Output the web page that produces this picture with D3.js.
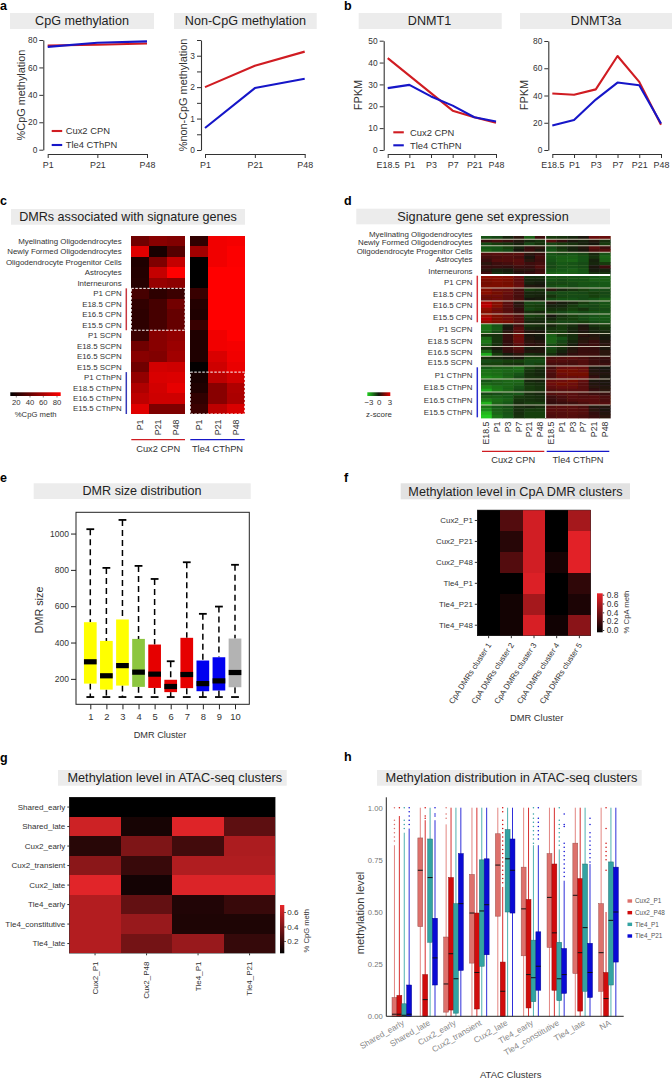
<!DOCTYPE html>
<html>
<head>
<meta charset="utf-8">
<script src="https://cdn.jsdelivr.net/npm/d3@7"></script>
<style>
body { margin: 0; background: #fff; }
svg { display: block; font-family: "Liberation Sans", Arial, sans-serif; }
text { fill: #333; }
</style>
</head>
<body>
<div id="chart"></div>
<script>
// panel a
const ageA = ["P1", "P21", "P48"];
const cpgCux2 = [76, 76.5, 77.5];
const cpgTle4 = [75, 78, 79];
const nonCpgCux2 = [2, 2.68, 3.13];
const nonCpgTle4 = [0.7, 1.97, 2.27];

// panel b
const ageB = ["E18.5", "P1", "P3", "P7", "P21", "P48"];
const dnmt1Cux2 = [42, 34, 26, 18, 15, 12.5];
const dnmt1Tle4 = [28.3, 29.8, 24.5, 20.3, 15, 13];
const dnmt3aCux2 = [41.5, 40.5, 44.5, 69, 50, 18.5];
const dnmt3aTle4 = [18, 22, 37, 49.5, 47.5, 19.5];

// panel c
const signatureLabels = ["Myelinating Oligodendrocytes", "Newly Formed Oligodendrocytes", "Oligodendrocyte Progenitor Cells",
    "Astrocytes", "Interneurons", "P1 CPN", "E18.5 CPN", "E16.5 CPN", "E15.5 CPN", "P1 SCPN", "E18.5 SCPN", "E16.5 SCPN",
    "E15.5 SCPN", "P1 CThPN", "E18.5 CThPN", "E16.5 CThPN", "E15.5 CThPN"];
const dmrCux2 = [[44, 51, 49], [76, 19, 36], [21, 48, 68], [22, 68, 85], [23, 55, 52], [32, 25, 29], [26, 32, 45], [25, 32, 41],
    [25, 32, 41], [29, 51, 54], [44, 51, 56], [51, 49, 58], [44, 72, 71], [54, 74, 75], [62, 72, 78], [66, 71, 71], [76, 48, 48]];
const dmrTle4 = [[26, 81, 82], [58, 81, 84], [12, 81, 84], [12, 85, 85], [12, 85, 85], [28, 85, 85], [22, 85, 85], [21, 85, 85],
    [28, 85, 85], [21, 81, 85], [21, 81, 82], [21, 74, 81], [13, 71, 79], [19, 66, 72], [21, 51, 62], [26, 51, 61], [29, 66, 74]];

// panel d, rows of z-scores, 6 Cux2 samples then 6 Tle4 samples
const exprGroupSizes = [1, 2, 2, 7, 4, 4, 4, 3, 3, 4, 3, 3, 4, 4, 4, 4];
const exprRows = [
    [-1, -.8, -.3, .3, -1.2, .6, -.6, -.5, -.3, .1, 1.2, 1.2],
    [.5, .7, .5, .2, -.3, -.5, .9, .4, .1, -.2, .2, -.4],
    [-.9, -.6, -.5, -.2, -.8, -.5, -.8, -.6, -.5, -.2, 0, -.6],
    [-1.1, -1, -.7, -.2, .4, .3, -.9, -.5, -.2, .2, 1, .6],
    [-1.2, -1, -.8, 0, .5, .1, -1, -.6, -.2, .1, .8, .9],
    [.9, 1, .9, 1, .3, .5, -1, -.9, -1, -.8, -.3, -1],
    [.7, .8, .9, .8, .1, .7, -1.1, -1.2, -1.2, -1, -.5, -1.3],
    [.5, .9, .9, 1, .3, .6, -1, -1.2, -1.3, -1, -.2, -1.2],
    [.3, .6, .7, .9, .6, .7, -.9, -1.1, -1, -.9, -.3, -.6],
    [.5, .5, .4, .6, .5, .9, -.8, -1, -1, -.9, .1, .6],
    [.3, -.2, -.1, .3, .3, .6, -1, -1.1, -1.2, -1, -.1, -.2],
    [.6, -.4, -.3, .2, .4, .7, -1.2, -1.3, -1.2, -1.1, -.4, -.5],
    [1.8, 1.7, 1.6, 1.2, -.4, -.4, -1, -1, -1, -1, -1.1, -1.2],
    [1.5, 1.6, 1.5, 1.1, -.3, -.3, -1, -.9, -1, -1, -1.2, -1.2],
    [1.4, 1.5, 1.4, 1.1, -.2, -.1, -.8, -.8, -.9, -1, -1, -1.1],
    [1.5, 1.5, 1.5, 1.2, .2, .1, -.9, -1, -.9, -1, -1.1, -1.1],
    [1.6, 1.3, 1.2, .7, -.6, -.5, .3, -.3, -.5, -.7, -.9, -.9],
    [1.7, 1.4, 1.2, .8, -.3, -.3, -.8, -.9, -.9, -.8, -.7, -.8],
    [1.3, 1.3, 1.1, .7, -.3, -.2, -.5, -.8, -.9, -.9, -.7, -.9],
    [1.2, 1.3, 1.1, .8, 0, -.1, -.9, -1, -1, -.9, -1, -1.2],
    [2.2, 1.6, 1, .2, -.8, -.8, .2, -.1, -.3, -.6, -.9, -1],
    [2.4, 1.6, 1, .3, -.7, -.6, -.2, -.3, -.6, -.9, -.8, -1],
    [1.8, 1.3, .9, .4, -.8, -.7, -.4, -.5, -.7, -.5, -.8, -.9],
    [1.6, 1.3, 1, .5, -.4, -.3, -.7, -.8, -1, -.9, -1, -1],
    [2, 1.5, 1.3, .9, -.7, -.6, 0, -.5, -.7, -.9, -1, -1.1],
    [2.2, 1.5, 1.3, 1, -.5, -.4, -.3, -.6, -.7, -.9, -1.1, -1.1],
    [1.8, 1.5, 1.4, 1, -.3, -.3, -.6, -.8, -.8, -.7, -.9, -1],
    [-1.5, -1, -.1, .7, -.5, -.4, -.3, -.6, -.4, .1, -.5, -.6],
    [-1.5, -1.1, .1, 1, -.3, -.2, -.5, -.6, -.3, .2, -.3, -.5],
    [-1.3, -.8, .3, 1, .2, .1, -.6, -.6, -.2, .1, -.2, -.3],
    [-.5, -.4, .5, 1.3, .1, -.1, -1.2, -.6, -.4, .3, .2, -.1],
    [-1.3, -.5, .5, 1.3, .2, 0, -1.3, -1, -.4, .2, .3, 0],
    [-1.6, -.5, .4, 1.2, .3, .2, -1.3, -.8, -.3, .3, .5, .2],
    [-1.2, -.4, .4, 1, .4, .3, -.9, -.6, -.1, .4, .6, .3],
    [-.4, .1, .5, .9, -.1, .1, -.8, -.4, .2, .5, .4, .1],
    [-1.3, -.3, .4, .7, .2, .2, -.7, -.2, .3, .5, .5, .3],
    [-2.4, -.6, -.1, .3, -.4, -.3, -.4, .1, .4, .6, .6, .3],
    [-.4, -.3, -.1, .1, -.7, -.7, .8, .9, 1, .8, .5, .5],
    [-.9, -.8, -.7, -.7, -.9, -.9, .9, .9, .8, .9, .6, .4],
    [-.7, -.7, -.5, -.4, -.8, -.7, .7, .7, .7, .9, .6, .6],
    [-1.1, -1.2, -1.2, -1.4, -.7, -.5, .7, 1.2, 1.3, 1.2, .1, 0],
    [-1.5, -1.4, -1.3, -1.3, -.5, -.3, .9, 1.4, 1.4, 1.3, .2, .1],
    [-1.5, -1.4, -1.2, -1, -.4, -.3, .8, 1.3, 1.4, 1.4, .3, .2],
    [-1.8, -1.6, -1.3, -.9, -.5, -.4, .8, 1.2, 1.2, 1.3, .4, .1],
    [-1, -1.2, -1.3, -1.3, -.3, -.2, 1.2, 1.3, 1.4, 1.1, .1, .1],
    [-1.3, -1.2, -1.3, -1.2, -.5, -.4, 1.3, 1.4, 1.3, 1, .2, .1],
    [-1.8, -1.5, -1.3, -1, -.6, -.5, 1.1, 1.2, 1.2, 1, .3, .2],
    [-2.3, -1.6, -1.3, -.9, -.6, -.5, .9, 1, 1, 1, .4, .3],
    [-.8, -.9, -1, -1, -.4, -.3, .9, 1, 1, .8, .6, .5],
    [-1.2, -1.2, -1.1, -.6, -.5, -.4, .6, .8, 1, .9, 1, .8],
    [-1.7, -1.4, -1.2, -.5, -.5, -.4, .5, .7, .9, 1, 1, .8],
    [-2.5, -1.3, -1.1, -.4, -.6, -.6, .4, .5, .6, .8, 1, .9],
    [-1.5, -1.1, -.9, -.4, -.3, -.4, .9, 1, 1, .8, .2, .2],
    [-1.9, -1.2, -1, -.4, -.6, -.6, 1, 1, 1, .9, .3, .1],
    [-2.6, -1.3, -1, -.4, -.7, -.7, .9, .9, 1, .9, .4, .2],
    [-2.9, -1.5, -1.1, -.5, -.7, -.7, .8, .9, .9, .8, .5, .3]
];
const exprLabels = signatureLabels;

// panel e
const dmrClusters = [1, 2, 3, 4, 5, 6, 7, 8, 9, 10];
const sizeQ1 = [174, 141, 163, 156, 150, 127, 149, 132, 136, 154];
const sizeMedian = [294, 217, 273, 237, 226, 158, 224, 174, 189, 235];
const sizeQ3 = [512, 409, 527, 420, 389, 195, 426, 301, 319, 422];
const sizeHigh = [1024, 811, 1075, 822, 750, 297, 842, 558, 598, 828];
const sizeLow = [100, 100, 100, 100, 100, 100, 100, 100, 100, 100];
const sizeColors = ["#ffff00", "#ffff00", "#ffff00", "#8cc63f", "#e60000", "#e60000", "#e60000", "#0000f0", "#0000f0", "#b3b3b3"];

// panel f
const cpaSamples = ["Cux2_P1", "Cux2_P21", "Cux2_P48", "Tle4_P1", "Tle4_P21", "Tle4_P48"];
const cpaClusters = ["CpA DMRs cluster 1", "CpA DMRs cluster 2", "CpA DMRs cluster 3", "CpA DMRs cluster 4", "CpA DMRs cluster 5"];
const cpaValues = [[0, .3, .76, 0, .6], [0, .14, .76, 0, .82], [0, .3, .76, .08, .82], [0, 0, .8, 0, .17], [0, .07, .6, 0, .1], [0, .07, .78, .06, .5]];

// panel g
const atacClusters = ["Shared_early", "Shared_late", "Cux2_early", "Cux2_transient", "Cux2_late", "Tle4_early", "Tle4_constitutive", "Tle4_late"];
const atacSamples = ["Cux2_P1", "Cux2_P48", "Tle4_P1", "Tle4_P21"];
const atacValues = [[0, 0, 0, 0], [.62, .07, .67, .28], [.12, .38, .2, .52], [.42, .17, .53, .53], [.68, .06, .66, .66], [.54, .3, .1, .17], [.54, .46, .09, .09], [.54, .35, .46, .16]];

// panel h, each box is [q1, median, q3, whisker top]
const distClusters = ["Shared_early", "Shared_late", "Cux2_early", "Cux2_transient", "Cux2_late", "Tle4_early", "Tle4_constitutive", "Tle4_late", "NA"];
const distSamples = ["Cux2_P1", "Cux2_P48", "Tle4_P1", "Tle4_P21"];
const distColors = ["#dd716c", "#d00c0c", "#33a3a2", "#0a0ad4"];
const boxCux2P1 = [[0, .01, .09, .82], [.43, .7, .855, 1], [.02, .155, .38, .92], [.255, .495, .68, 1], [.48, .725, .875, 1], [.29, .515, .715, 1], [.33, .57, .78, 1], [.205, .58, .83, 1], [.12, .305, .54, 1]];
const boxCux2P48 = [[0, .01, .1, .96], [0, .08, .2, .94], [.03, .3, .665, 1], [.035, .21, .495, 1], [0, .12, .26, .62], [.04, .2, .56, 1], [.125, .4, .73, 1], [.025, .305, .66, 1], [0, .085, .21, .5]];
const boxTle4P1 = [[0, .005, .06, .88], [.355, .665, .85, 1], [.015, .18, .54, 1], [.24, .505, .75, 1], [.5, .755, .895, 1], [.07, .185, .365, .82], [.075, .18, .355, .8], [.12, .425, .73, 1], [.15, .46, .74, 1]];
const boxTle4P21 = [[0, .01, .15, .9], [.15, .28, .47, .94], [.22, .54, .78, 1], [.295, .535, .755, 1], [.495, .7, .85, 1], [.125, .24, .405, .82], [.11, .2, .325, .65], [.09, .21, .35, .73], [.26, .5, .715, 1]];
const outCux2P1 = [[.84, .86, .88, .9, .92, .94, 1], [], [.95, .97, 1], [], [], [], [], [], []];
const outCux2P48 = [[1], [.95, .96, 1], [], [], [.64, .66, .68, .7, .72, .74, .76, .78, .8, .82, .84, .86, .88, .9, .92, .94, .98, 1], [], [], [], [.7, .75, .77, .79, .81, .83, .9, 1]];
const outTle4P1 = [[.9, .92, .94, 1], [], [], [], [], [.83, .85, .87, .89, .91, .93, .95, .97, 1], [.82, .84, .86, .88, .9, .92, .94, 1], [], []];
const outTle4P21 = [[.92, .94, .96, .98, 1], [.96, .97, 1], [], [], [], [.85, .87, .89, .91, .93, .95, 1], [.67, .69, .71, .73, .75, .77, .79, .81, .83, .91, .92, .97], [.74, .76, .78, .8, .82, .84, .86, .88, .92, .95], []];

const RED = "#d01c22", BLUE = "#1616c8";

let svg = d3.select("#chart").append("svg").attr("width", 672).attr("height", 1081);

// the gene expression heat map is a soft raster in the original
svg.append("defs").append("filter").attr("id", "soft")
    .attr("x", "-2%").attr("y", "-2%").attr("width", "104%").attr("height", "104%")
    .append("feGaussianBlur").attr("stdDeviation", "0.6,0.5");

function addText(x, y, str, size, opts) {
    opts = opts || {};
    let t = svg.append("text").attr("x", x).attr("y", y).text(str)
        .style("font-size", size + "px")
        .attr("text-anchor", opts.anchor || "start");
    if (opts.rotate !== undefined) t.attr("transform", `rotate(${opts.rotate},${x},${y})`);
    if (opts.weight) t.style("font-weight", opts.weight);
    if (opts.fill) t.style("fill", opts.fill);
    return t;
}

function panelTitle(x0, x1, y0, y1, str, size, cx, fill) {
    svg.append("rect").attr("x", x0).attr("y", y0).attr("width", x1 - x0).attr("height", y1 - y0)
        .attr("fill", fill || "#ececec");
    addText(cx === undefined ? (x0 + x1) / 2 : cx, y1 - 3.6, str, size, {anchor: "middle", fill: "#222"});
}

function styleAxis(g, col, size) {
    g.selectAll(".domain").attr("stroke", col).attr("stroke-width", 1.1);
    g.selectAll(".tick line").attr("stroke", col).attr("stroke-width", 1);
    g.selectAll(".tick text").style("font-size", size + "px").style("fill", "#333").style("font-family", "inherit");
}

// line panels a and b
function linePanel(o) {
    let x = d3.scalePoint().domain(o.ages).range(o.xRange);
    let y = d3.scaleLinear().domain(o.yDomain).range(o.yRange);
    let xg = svg.append("g").attr("transform", `translate(0,154)`)
        .call(d3.axisBottom(x).tickSize(4).tickSizeOuter(0).tickPadding(4));
    styleAxis(xg, "#333", 8.9);
    let yg = svg.append("g").attr("transform", `translate(${o.yAxisX},0)`)
        .call(d3.axisLeft(y).tickValues(o.ticks).tickSize(4).tickSizeOuter(0).tickPadding(2).tickFormat(o.tickFormat || d3.format("d")));
    styleAxis(yg, "#333", 8.4);

    let line = d3.line().x((d, i) => x(o.ages[i])).y(d => y(d));
    [[o.cux2, RED], [o.tle4, BLUE]].forEach(s => {
        svg.append("path").attr("d", line(s[0])).attr("fill", "none")
            .attr("stroke", s[1]).attr("stroke-width", 2.1).attr("stroke-linejoin", "round");
    });
    addText(o.titleX, 95, o.yTitle, 10.9, {anchor: "middle", rotate: -90});
    if (o.legend) {
        [["Cux2 CPN", RED, o.legend[2]], ["Tle4 CThPN", BLUE, o.legend[3]]].forEach(l => {
            svg.append("line").attr("x1", o.legend[0]).attr("x2", o.legend[0] + 10.5).attr("y1", l[2]).attr("y2", l[2])
                .attr("stroke", l[1]).attr("stroke-width", 2.1);
            addText(o.legend[1], l[2] + 3.2, l[0], 9.4);
        });
    }
}

panelTitle(10, 154, 13, 29, "CpG methylation", 12.6);
panelTitle(174, 316.7, 13, 29, "Non-CpG methylation", 12.6);
panelTitle(358.7, 501.7, 13, 29, "DNMT1", 12.6, 429.5);
panelTitle(520, 672, 13, 29, "DNMT3a", 12.6, 596);

linePanel({ages: ageA, cux2: cpgCux2, tle4: cpgTle4, xRange: [47.7, 147], yDomain: [0, 80], yRange: [149.7, 40],
    ticks: [0, 20, 40, 60, 80], yAxisX: 43.3, titleX: 25, yTitle: "%CpG methylation", legend: [51.7, 65.7, 131, 145]});
linePanel({ages: ageA, cux2: nonCpgCux2, tle4: nonCpgTle4, xRange: [205, 304.7], yDomain: [0, 3.5], yRange: [150, 40],
    ticks: [0, .5, 1, 1.5, 2, 2.5, 3, 3.5], tickFormat: d => Number.isInteger(d) ? d : "", yAxisX: 201, titleX: 186.5, yTitle: "%non-CpG methylation"});
linePanel({ages: ageB, cux2: dnmt1Cux2, tle4: dnmt1Tle4, xRange: [387.7, 496], yDomain: [0, 50], yRange: [150, 40.7],
    ticks: [0, 10, 20, 30, 40, 50], yAxisX: 383.7, titleX: 362, yTitle: "FPKM", legend: [393.3, 410, 132.3, 145.3]});
linePanel({ages: ageB, cux2: dnmt3aCux2, tle4: dnmt3aTle4, xRange: [552.3, 661], yDomain: [0, 80], yRange: [150, 41],
    ticks: [0, 20, 40, 60, 80], yAxisX: 548.3, titleX: 528, yTitle: "FPKM"});

[["a", 0, 10], ["b", 344, 10], ["c", 0, 205], ["d", 344, 205], ["e", 0, 481.5], ["f", 344, 481.5], ["g", 0, 762], ["h", 344, 761]]
    .forEach(p => addText(p[1], p[2], p[0], 12.5, {weight: "bold", fill: "#000"}));

// panel c
panelTitle(11, 245, 209, 224.7, "DMRs associated with signature genes", 12.6);
let cRed = d3.scaleLinear().domain([12, 85]).range(["#000000", "#ff0000"]);
let cRows = d3.scaleBand().domain(signatureLabels).range([236, 414]);
function cBlock(values, x0, x1, title, col) {
    let cols = d3.scaleBand().domain(ageA).range([x0, x1]);
    signatureLabels.forEach((lab, r) => {
        svg.append("g").selectAll("rect").data(values[r]).join("rect")
            .attr("x", (d, i) => cols(ageA[i])).attr("y", cRows(lab))
            .attr("width", cols.bandwidth()).attr("height", cRows.bandwidth())
            .attr("fill", d => cRed(d)).attr("shape-rendering", "crispEdges");
    });
    ageA.forEach(a => addText(cols(a) + cols.bandwidth() / 2 + 3, 419.5, a, 8.8, {anchor: "end", rotate: -90}));
    svg.append("line").attr("x1", x0).attr("x2", x1).attr("y1", 439.7).attr("y2", 439.7).attr("stroke", col).attr("stroke-width", 1.2);
    addText((x0 + x1) / 2, 451.7, title, 9.3, {anchor: "middle"});
}
cBlock(dmrCux2, 131.3, 185, "Cux2 CPN", RED);
cBlock(dmrTle4, 190.3, 244.7, "Tle4 CThPN", BLUE);
signatureLabels.forEach(lab => addText(121.7, cRows(lab) + cRows.bandwidth() / 2 + 2.7, lab, 7.9, {anchor: "end"}));
svg.append("line").attr("x1", 126.3).attr("x2", 126.3).attr("y1", cRows("P1 CPN")).attr("y2", cRows("E15.5 CPN") + cRows.bandwidth()).attr("stroke", "#c8373f").attr("stroke-width", 1.5);
svg.append("line").attr("x1", 126.3).attr("x2", 126.3).attr("y1", cRows("P1 CThPN")).attr("y2", 414).attr("stroke", "#3338b8").attr("stroke-width", 1.5);
[[131.3, 53.7, "P1 CPN", "P1 SCPN"], [190.3, 54.4, "P1 CThPN", null]].forEach(b => {
    let y0 = cRows(b[2]), y1 = b[3] ? cRows(b[3]) : 414;
    svg.append("rect").attr("x", b[0]).attr("y", y0).attr("width", b[1]).attr("height", y1 - y0)
        .attr("fill", "none").attr("stroke", "#fff").attr("stroke-width", 1).attr("stroke-dasharray", "2.5,1.5");
});

function gradientBar(id, scale, stops, x, y, w, h, vertical) {
    let grad = svg.append("defs").append("linearGradient").attr("id", id)
        .attr("x1", "0").attr("y1", vertical ? "1" : "0").attr("x2", vertical ? "0" : "1").attr("y2", "0");
    stops.forEach((s, i) => grad.append("stop").attr("offset", i / (stops.length - 1)).attr("stop-color", scale(s)));
    svg.append("rect").attr("x", x).attr("y", y).attr("width", w).attr("height", h).attr("fill", `url(#${id})`);
}
gradientBar("cbarC", cRed, [12, 85], 10.3, 392.3, 50.4, 3.7);
[[20, 16.3], [40, 30], [60, 43.3], [80, 57]].forEach(t => {
    addText(t[1], 405, t[0], 7.7, {anchor: "middle"});
    svg.append("line").attr("x1", t[1]).attr("x2", t[1]).attr("y1", 396).attr("y2", 397.5).attr("stroke", "#333").attr("stroke-width", .6);
});
addText(35.7, 417.3, "%CpG meth", 7.7, {anchor: "middle"});

// panel d
panelTitle(356.3, 610, 208.7, 224.3, "Signature gene set expression", 12.7, 483);
let exprColor = d3.scaleLinear().domain([-3, 0, 3]).range(["#22d022", "#14140c", "#e40000"]);
let exprAges = ageB.map(a => "c" + a).concat(ageB.map(a => "t" + a));
let dCols = d3.scaleBand().domain(exprAges).range([481, 610.3]);
let dRows = d3.scaleBand().domain(d3.range(exprRows.length)).range([236, 418]);
svg.append("g").attr("filter", "url(#soft)").selectAll("g").data(exprRows).join("g")
    .attr("transform", (d, i) => `translate(0,${dRows(i)})`)
    .selectAll("rect").data(d => d).join("rect")
    .attr("x", (d, i) => dCols(exprAges[i])).attr("width", dCols.bandwidth() + .4).attr("height", dRows.bandwidth() + .4)
    .attr("fill", d => exprColor(d));
d3.cumsum(exprGroupSizes).slice(0, -1).forEach((n, i) => {
    svg.append("line").attr("x1", 481).attr("x2", 610.3).attr("y1", dRows(n)).attr("y2", dRows(n))
        .attr("stroke", i === 3 ? "#ffffff" : "#d9d2c0").attr("stroke-width", i === 3 ? 2 : .9);
});
svg.append("line").attr("x1", dCols("tE18.5")).attr("x2", dCols("tE18.5")).attr("y1", 236).attr("y2", 418).attr("stroke", "#fff").attr("stroke-width", 1);
exprAges.forEach(a => addText(dCols(a) + dCols.bandwidth() / 2 + 3, 421.5, a.slice(1), 8.8, {anchor: "end", rotate: -90}));
[[482, 544.3, RED, "Cux2 CPN"], [546.7, 609.3, BLUE, "Tle4 CThPN"]].forEach(u => {
    svg.append("line").attr("x1", u[0]).attr("x2", u[1]).attr("y1", 451.3).attr("y2", 451.3).attr("stroke", u[2]).attr("stroke-width", 1.2);
    addText((u[0] + u[1]) / 2, 463.3, u[3], 9.3, {anchor: "middle"});
});
let dLabelY = d3.scaleOrdinal().domain(exprLabels).range([234, 242.7, 251, 259, 271, 282, 294, 305.7, 317.3, 329.3, 341, 352.3, 362, 375, 387.3, 400.3, 412.3]);
exprLabels.forEach(lab => addText(472.5, dLabelY(lab) + 2.7, lab, 7.9, {anchor: "end"}));
svg.append("line").attr("x1", 477.3).attr("x2", 477.3).attr("y1", 275.7).attr("y2", 322.3).attr("stroke", "#d8333b").attr("stroke-width", 1.5);
svg.append("line").attr("x1", 477.3).attr("x2", 477.3).attr("y1", 367.3).attr("y2", 417.3).attr("stroke", "#2a2ed0").attr("stroke-width", 1.5);
gradientBar("cbarD", exprColor, [-3, 0, 3], 367.3, 392.3, 23, 3.7);
[["\u22123", 369], ["0", 379.3], ["3", 390]].forEach(t => addText(t[1], 405.3, t[0], 7.9, {anchor: "middle"}));
addText(379, 417.3, "z-score", 7.9, {anchor: "middle"});

// panel e
panelTitle(33.7, 250.7, 483.3, 499, "DMR size distribution", 12.6, 142);
let eX = d3.scalePoint().domain(dmrClusters).range([90.3, 235]);
let eY = d3.scaleLinear().domain([60, 1117]).range([704.3, 512.3]);
let boxW = 12.7;
dmrClusters.forEach((c, i) => {
    let g = svg.append("g"), cx = eX(c);
    g.append("line").attr("x1", cx).attr("x2", cx).attr("y1", eY(sizeHigh[i])).attr("y2", eY(sizeQ3[i]))
        .attr("stroke", "#000").attr("stroke-width", 1.5).attr("stroke-dasharray", "6,4");
    g.append("line").attr("x1", cx).attr("x2", cx).attr("y1", eY(sizeQ1[i])).attr("y2", eY(sizeLow[i]))
        .attr("stroke", "#000").attr("stroke-width", 1.5).attr("stroke-dasharray", "6,4");
    [sizeHigh[i], sizeLow[i]].forEach(v => g.append("line").attr("x1", cx - 3.9).attr("x2", cx + 3.9).attr("y1", eY(v)).attr("y2", eY(v))
        .attr("stroke", "#000").attr("stroke-width", 1.8));
    g.append("rect").attr("x", cx - boxW / 2).attr("width", boxW).attr("y", eY(sizeQ3[i])).attr("height", eY(sizeQ1[i]) - eY(sizeQ3[i]))
        .attr("fill", sizeColors[i]);
    g.append("rect").attr("x", cx - boxW / 2).attr("width", boxW).attr("y", eY(sizeMedian[i]) - 2.6).attr("height", 5.2).attr("fill", "#000");
});
svg.append("rect").attr("x", 76).attr("y", 512.3).attr("width", 173.3).attr("height", 192).attr("fill", "none").attr("stroke", "#222").attr("stroke-width", 1);
let eYg = svg.append("g").attr("transform", "translate(76,0)")
    .call(d3.axisLeft(eY).tickValues([200, 400, 600, 800, 1000]).tickFormat(d3.format("d")).tickSize(5).tickSizeOuter(0).tickPadding(2));
eYg.select(".domain").remove();
styleAxis(eYg, "#222", 8.5);
let eXg = svg.append("g").attr("transform", "translate(0,704.3)")
    .call(d3.axisBottom(eX).tickSize(5).tickSizeOuter(0).tickPadding(4));
eXg.select(".domain").remove();
styleAxis(eXg, "#222", 9.4);
addText(43, 610, "DMR size", 10.8, {anchor: "middle", rotate: -90});
addText(160, 737.7, "DMR Cluster", 9.2, {anchor: "middle"});

// panels f and g share the same kind of heat map
function redHeat(o) {
    let x = d3.scaleBand().domain(o.cols).range(o.xRange);
    let y = d3.scaleBand().domain(o.rows).range(o.yRange);
    o.rows.forEach((r, ri) => {
        svg.append("g").selectAll("rect").data(o.values[ri]).join("rect")
            .attr("x", (d, i) => x(o.cols[i])).attr("y", y(r))
            .attr("width", x.bandwidth()).attr("height", y.bandwidth())
            .attr("fill", d => o.color(d)).attr("shape-rendering", "crispEdges");
    });
    let yg = svg.append("g").attr("transform", `translate(${o.xRange[0]},0)`)
        .call(d3.axisLeft(y).tickSize(o.tick).tickSizeOuter(0).tickPadding(2));
    yg.select(".domain").remove();
    styleAxis(yg, "#333", o.fontSize);
    let xg = svg.append("g").attr("transform", `translate(0,${o.yRange[1]})`)
        .call(d3.axisBottom(x).tickSize(o.tick).tickSizeOuter(0).tickFormat(""));
    xg.select(".domain").remove();
    styleAxis(xg, "#333", o.fontSize);
    o.cols.forEach(c => {
        let cx = x(c) + x.bandwidth() / 2;
        addText(cx + o.labelDx, o.labelY, c, o.fontSize, {anchor: "end", rotate: o.labelAngle});
    });
    svg.append("rect").attr("x", o.xRange[0]).attr("y", o.yRange[0]).attr("width", o.xRange[1] - o.xRange[0]).attr("height", o.yRange[1] - o.yRange[0])
        .attr("fill", "none").attr("stroke", "#333").attr("stroke-width", .5);
}

panelTitle(400.7, 630, 483.3, 499.3, "Methylation level in CpA DMR clusters", 12.65, 515.5, "#e2e2e2");
let fColor = d3.scaleLinear().domain([0, .85]).range(["#000000", "#ea2228"]);
redHeat({cols: cpaClusters, rows: cpaSamples, values: cpaValues, color: fColor, xRange: [477.3, 590.7], yRange: [510, 635.7],
    tick: 2.5, labelDx: 3, labelY: 645, labelAngle: -57, fontSize: 7.9});
addText(536.7, 720.7, "DMR Cluster", 9.3, {anchor: "middle"});
gradientBar("cbarF", fColor, [0, .85], 597, 593.3, 5.7, 39, true);
let fBar = d3.scaleLinear().domain([0, .8]).range([630, 594.7]);
let fBarAxis = svg.append("g").attr("transform", "translate(602.7,0)")
    .call(d3.axisRight(fBar).tickValues([0, .2, .4, .6, .8]).tickFormat(d3.format(".1f")).tickSize(1.5).tickSizeOuter(0).tickPadding(2.5));
fBarAxis.select(".domain").remove();
styleAxis(fBarAxis, "#333", 8.4);
addText(629, 612, "% CpA meth", 7.7, {anchor: "middle", rotate: -90});

panelTitle(58, 286.7, 770, 785.7, "Methylation level in ATAC-seq clusters", 12.7, 174.8);
let gColor = d3.scaleLinear().domain([0, .7]).range(["#000000", "#e8262a"]);
redHeat({cols: atacSamples, rows: atacClusters, values: atacValues, color: gColor, xRange: [69.3, 275.3], yRange: [797.3, 953.3],
    tick: 2, labelDx: 2.6, labelY: 961.5, labelAngle: -90, fontSize: 8});
gradientBar("cbarG", gColor, [0, .7], 280, 905, 4.3, 48.3, true);
let gBar = d3.scaleLinear().domain([.2, .6]).range([941, 912]);
let gBarAxis = svg.append("g").attr("transform", "translate(284.3,0)")
    .call(d3.axisRight(gBar).tickValues([.2, .4, .6]).tickFormat(d3.format(".1f")).tickSize(1.5).tickSizeOuter(0).tickPadding(1.5));
gBarAxis.select(".domain").remove();
styleAxis(gBarAxis, "#333", 8.1);
addText(309.5, 930.7, "% CpG meth", 7.6, {anchor: "middle", rotate: -90});

// panel h
panelTitle(377, 641.7, 770, 785.7, "Methylation distribution in ATAC-seq clusters", 12.8, 511.5);
let hX = d3.scaleBand().domain(distClusters).range([388.9, 621.4]);
let hInner = d3.scaleBand().domain(distSamples).range([0, 19.6]);
let hY = d3.scaleLinear().domain([0, 1]).range([1016.3, 807.7]);
let hBoxes = [boxCux2P1, boxCux2P48, boxTle4P1, boxTle4P21];
let hOut = [outCux2P1, outCux2P48, outTle4P1, outTle4P21];
distClusters.forEach((c, ci) => {
    let left = hX(c) + hX.bandwidth() / 2 - 9.8;
    distSamples.forEach((s, si) => {
        let b = hBoxes[si][ci], cx = left + hInner(s) + hInner.bandwidth() / 2, col = distColors[si];
        let g = svg.append("g");
        g.append("line").attr("x1", cx).attr("x2", cx).attr("y1", hY(0)).attr("y2", hY(b[3]))
            .attr("stroke", col).attr("stroke-width", 1).attr("stroke-opacity", .85);
        g.selectAll("circle").data(hOut[si][ci]).join("circle")
            .attr("cx", cx).attr("cy", d => hY(d)).attr("r", .75).attr("fill", col);
        g.append("rect").attr("x", cx - 2.45).attr("width", 4.9).attr("y", hY(b[2])).attr("height", hY(b[0]) - hY(b[2]))
            .attr("fill", col).attr("stroke", d3.color(col).darker(1)).attr("stroke-width", .5);
        g.append("line").attr("x1", cx - 2.45).attr("x2", cx + 2.45).attr("y1", hY(b[1])).attr("y2", hY(b[1]))
            .attr("stroke", "#111").attr("stroke-width", 1);
    });
    addText(hX(c) + hX.bandwidth() / 2 + 3, 1024.5, c, 8.3, {anchor: "end", rotate: -30, fill: "#888"});
});
let hYg = svg.append("g").attr("transform", "translate(386.3,0)")
    .call(d3.axisLeft(hY).tickValues([0, .25, .5, .75, 1]).tickFormat(d3.format(".2f")).tickSize(0).tickPadding(3.6));
hYg.select(".domain").remove();
styleAxis(hYg, "#333", 7.7);
hYg.selectAll(".tick text").style("fill", "#777");
svg.append("line").attr("x1", 386.3).attr("x2", 386.3).attr("y1", 797.3).attr("y2", 1016.3).attr("stroke", "#222").attr("stroke-width", 1);
svg.append("line").attr("x1", 386.3).attr("x2", 623.7).attr("y1", 1016.3).attr("y2", 1016.3).attr("stroke", "#222").attr("stroke-width", 1);
addText(363.5, 913, "methylation level", 11.1, {anchor: "middle", rotate: -90});
addText(510.7, 1077.5, "ATAC Clusters", 9.5, {anchor: "middle"});
let legY = d3.scalePoint().domain(distSamples).range([901, 936]);
distSamples.forEach((s, i) => {
    svg.append("rect").attr("x", 627.5).attr("y", legY(s) - 1.7).attr("width", 4.6).attr("height", 3.4).attr("fill", distColors[i]);
    addText(635, legY(s) + 2.3, s, 6.4, {fill: "#555"});
});
</script>
</body>
</html>
